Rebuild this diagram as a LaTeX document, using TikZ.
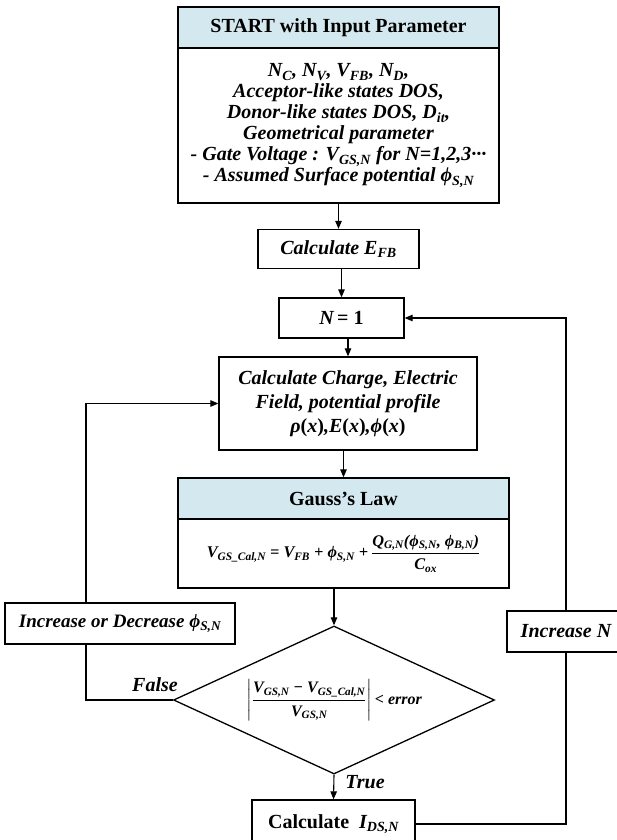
\documentclass[tikz,border=0pt]{standalone}
\usepackage{amsmath}
\usepackage{fontspec}
\setmainfont{Liberation Serif}
\usetikzlibrary{shapes.geometric, positioning, arrows.meta, calc}
\definecolor{headblue}{RGB}{212,233,239}
\newcommand{\sbs}[1]{\textsubscript{#1}}
\tikzset{
  process/.style={rectangle, draw=black, line width=1.3pt, fill=white, align=center, inner sep=0pt, font=\fontsize{20}{21}\selectfont\bfseries\itshape},
  header/.style={process, fill=headblue, font=\fontsize{20}{21}\selectfont\bfseries},
  decision/.style={diamond, draw=black, line width=1.3pt, inner sep=0pt, aspect=2.17, font=\fontsize{16}{18}\selectfont\bfseries\itshape},
  label/.style={font=\fontsize{20}{21}\selectfont\bfseries\itshape},
  arrow/.style={line width=1.1pt, -{Triangle[length=8pt,width=6.5pt]}},
  link/.style={line width=1.1pt}
}

\begin{document}
\begin{tikzpicture}[x=1pt,y=-1pt]
  \clip (0,0) rectangle (617,840);

  % Input block
  \node[header, minimum width=321pt, minimum height=41pt] (starttitle) at (338.5,27.5) {START with Input Parameter};
  \node[process, minimum width=321pt, minimum height=155pt] (startbody) at (338.5,125.5)
    {N\sbs{C}, N\sbs{V}, V\sbs{FB}, N\sbs{D},\\
     Acceptor-like states DOS,\\
     Donor-like states DOS, D\sbs{it},\\
     Geometrical parameter\\
     - Gate Voltage : V\sbs{GS,N} for N=1,2,3···\\
     - Assumed Surface potential ϕ\sbs{S,N}};

  % Main column
  \node[process, minimum width=161pt, minimum height=39pt] (efb) at (338.5,249) {Calculate E\sbs{FB}};
  \node[process, minimum width=125pt, minimum height=40pt] (nset) at (341.5,318) {N\,\textup{= 1}};
  \node[process, minimum width=258pt, minimum height=93pt, font=\fontsize{20}{24}\selectfont\bfseries\itshape] (charge) at (348,403.5)
    {Calculate Charge, Electric\\ Field, potential profile\\ ρ\textup{(}x\textup{)},E\textup{(}x\textup{)},ϕ\textup{(}x\textup{)}};
  \node[header, minimum width=331pt, minimum height=41pt] (gausstitle) at (343.5,498.5) {Gauss’s Law};
  \node[process, minimum width=331pt, minimum height=69pt, font=\fontsize{16.3}{18}\selectfont\bfseries\itshape] (gaussbody) at (343.5,553.5)
    {$\text{V\sbs{GS\_Cal,N} = V\sbs{FB} + ϕ\sbs{S,N} +}\,\dfrac{\text{Q\sbs{G,N}(ϕ\sbs{S,N}, ϕ\sbs{B,N})}}{\text{C\sbs{ox}}}$};
  \node[decision, minimum width=321pt, minimum height=148pt] (check) at (334,700)
    {$\left|\dfrac{\text{V\sbs{GS,N} − V\sbs{GS\_Cal,N}}}{\text{V\sbs{GS,N}}}\right|$\,< error};
  \node[process, minimum width=163pt, minimum height=48pt] (ids) at (333.5,824) {\upshape Calculate\enspace\itshape I\sbs{DS,N}};

  % Loop blocks
  \node[process, minimum width=230pt, minimum height=41pt, font=\fontsize{19}{21}\selectfont\bfseries\itshape] (change) at (120,623.5) {Increase or Decrease ϕ\sbs{S,N}};
  \node[process, minimum width=118pt, minimum height=41pt] (incr) at (566,631.5) {Increase N};

  % Branch labels
  \node[label] (falselbl) at (155,685) {False};
  \node[label] (truelbl) at (365,782) {True};

  % Arrows
  \draw[arrow] (efb.north |- startbody.south) -- (efb.north);
  \draw[arrow] (nset.north |- efb.south) -- (nset.north);
  \draw[arrow] (charge.north |- nset.south) -- (charge.north);
  \draw[arrow] (gausstitle.north |- charge.south) -- (gausstitle.north);
  \draw[arrow] (check.north |- gaussbody.south) -- (check.north);
  \draw[arrow] (check.south) -- (ids.north);

  % False loop
  \coordinate (falsept) at (86,700);
  \draw[link] (check.west) -- (falsept) -- (falsept |- change.south);
  \draw[arrow] (falsept |- change.north) |- (charge.west);

  % Next N loop
  \draw[link] (ids.east) -| (incr.south);
  \draw[arrow] (incr.north) |- (nset.east);
\end{tikzpicture}
\end{document}
